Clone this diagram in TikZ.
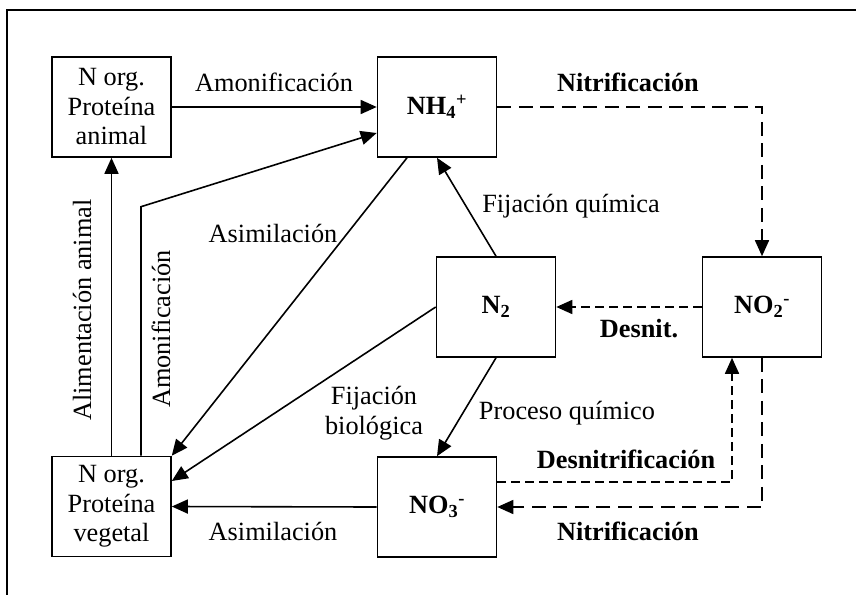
\documentclass[tikz,border=0pt]{standalone}
\usepackage{fontspec}
\setmainfont{Liberation Serif}
\usetikzlibrary{arrows.meta}
\tikzset{
  box/.style={draw, line width=1.6pt, minimum width=119pt, minimum height=100pt, inner sep=0pt, align=center, font=\fontsize{26.3}{29.5}\selectfont},
  lbl/.style={anchor=base, inner sep=0pt, font=\fontsize{26.3}{29.5}\selectfont},
  blbl/.style={lbl, font=\fontsize{26.3}{29.5}\selectfont\bfseries},
  arr/.style={line width=1.6pt, -{Triangle[length=16pt,width=14pt]}},
  longdash/.style={arr, dash pattern=on 14pt off 7.5pt},
  shortdash/.style={arr, dash pattern=on 9pt off 5pt}
}
\begin{document}
\begin{tikzpicture}[x=1pt, y=-1pt]
\clip (0,0) rectangle (856,594);
\draw[line width=1.6pt] (7,10) rectangle (880,620);

\node[box] (animal) at (111.5,107) {N org.\\Proteína\\animal};
\node[box] (nh4) at (437,107) {\textbf{NH\textsubscript{4}\textsuperscript{+}}};
\node[box] (n2) at (496,307) {\textbf{N\textsubscript{2}}};
\node[box] (no2) at (762,307) {\textbf{NO\textsubscript{2}\textsuperscript{-}}};
\node[box] (veg) at (111.5,506.5) {N org.\\Proteína\\vegetal};
\node[box] (no3) at (437,507) {\textbf{NO\textsubscript{3}\textsuperscript{-}}};

\draw[arr] (animal) -- (nh4);
\draw[arr] ([xshift=-30pt]nh4.south) -- (veg.north east);
\draw[arr] ([xshift=29.5pt]veg.north) -- ++(0,-249) -- ([yshift=-26pt]nh4.west);
\draw[arr] (veg.north) -- (animal.south);
\draw[arr] (n2.north) -- (nh4.south);
\draw[arr] (n2.west) -- ([yshift=25.5pt]veg.east);
\draw[arr] (n2.south) -- (no3.north);
\draw[shortdash] (no2.west) -- (n2.east);
\draw[longdash] (nh4.east) -| (no2.north);
\draw[shortdash] ([yshift=25pt]no3.east) -| ([xshift=-30pt]no2.south);
\draw[longdash] (no2.south) |- (no3.east);
\draw[arr] (no3.west) -- (veg.east);

\node[lbl] (l1) at (274,92) {Amonificación};
\node[blbl] (l2) at (628,92) {Nitrificación};
\node[lbl] (l3) at (571,212) {Fijación química};
\node[lbl] (l4) at (273,242) {Asimilación};
\node[lbl, align=center] (l5) at (374,434) {Fijación\\biológica};
\node[lbl] (l6) at (567,419) {Proceso químico};
\node[blbl] (l7) at (639,337) {Desnit.};
\node[blbl] (l8) at (626,468) {Desnitrificación};
\node[blbl] (l9) at (628,540) {Nitrificación};
\node[lbl] (l10) at (273,540) {Asimilación};
\node[lbl, rotate=90] (l11) at (91,310) {Alimentación animal};
\node[lbl, rotate=90] (l12) at (170,329) {Amonificación};
\end{tikzpicture}
\end{document}
